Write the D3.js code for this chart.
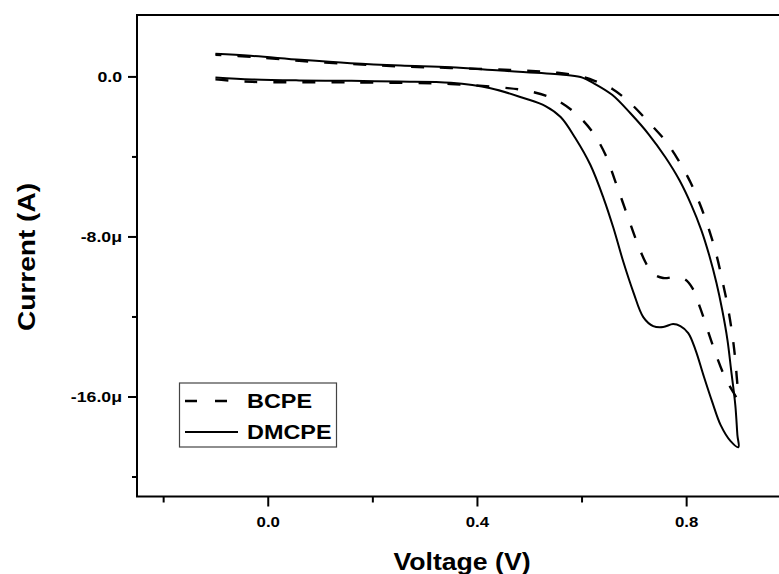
<!DOCTYPE html>
<html><head><meta charset="utf-8">
<script src="https://cdn.jsdelivr.net/npm/d3@7"></script>
<style>
html,body{margin:0;padding:0;background:#fff;}
text{font-family:"Liberation Sans",Arial,sans-serif;font-weight:bold;fill:#000;}
</style></head>
<body><svg id="c" width="779" height="574"></svg>
<script>
// ---- data (voltage in V, current in µA) ----
const seriesNames = ["BCPE", "DMCPE"];
const xMajorTicks = [0, 0.4, 0.8];
const xMinorTicks = [-0.2, 0.2, 0.6];
const yMajorTicks = [0, -8, -16];
const yMinorTicks = [-4, -12, -20];
const yTickLabels = ["0.0", "-8.0\u03bc", "-16.0\u03bc"];

const dmcpeFwdV = [-0.1, -0.03, 0.06, 0.16, 0.25, 0.35, 0.426, 0.489, 0.531, 0.560, 0.588, 0.617, 0.642, 0.661, 0.680, 0.699, 0.718, 0.737, 0.756, 0.775, 0.789, 0.804, 0.818, 0.833, 0.850, 0.866, 0.885, 0.900];
const dmcpeFwdI = [-0.05, -0.15, -0.2, -0.22, -0.26, -0.32, -0.59, -1.08, -1.48, -2.03, -3.08, -4.43, -6.08, -7.58, -9.28, -10.78, -12.03, -12.48, -12.53, -12.38, -12.48, -12.83, -13.68, -14.93, -16.28, -17.43, -18.23, -18.53];
const dmcpeRevV = [0.900, 0.898, 0.894, 0.886, 0.879, 0.869, 0.858, 0.844, 0.829, 0.810, 0.787, 0.760, 0.728, 0.693, 0.659, 0.626, 0.598, 0.560, 0.445, 0.349, 0.254, 0.158, 0.063, -0.033, -0.1];
const dmcpeRevI = [-18.53, -17.93, -16.43, -14.68, -13.18, -11.68, -10.33, -8.93, -7.68, -6.43, -5.18, -4.03, -2.88, -1.83, -0.93, -0.38, -0.03, 0.1, 0.29, 0.46, 0.54, 0.66, 0.83, 1.03, 1.13];

const bcpeFwdV = [-0.1, -0.03, 0.16, 0.35, 0.445, 0.502, 0.552, 0.592, 0.621, 0.646, 0.665, 0.684, 0.703, 0.722, 0.735, 0.756, 0.779, 0.797, 0.812, 0.827, 0.843, 0.858, 0.875, 0.890, 0.898];
const bcpeFwdI = [-0.15, -0.27, -0.3, -0.38, -0.55, -0.75, -1.18, -1.93, -2.78, -3.93, -5.28, -6.68, -8.08, -9.28, -9.83, -10.08, -10.03, -10.13, -10.58, -11.58, -12.83, -13.98, -15.08, -15.78, -16.08];
const bcpeRevV = [0.898, 0.896, 0.892, 0.887, 0.879, 0.869, 0.858, 0.844, 0.827, 0.808, 0.785, 0.759, 0.728, 0.693, 0.659, 0.626, 0.598, 0.554, 0.489, 0.35, 0.25, 0.16, 0.06, -0.03, -0.1];
const bcpeRevI = [-16.08, -14.78, -13.68, -12.68, -11.43, -10.18, -8.93, -7.68, -6.43, -5.28, -4.18, -3.18, -2.28, -1.33, -0.63, -0.23, 0.0, 0.18, 0.29, 0.42, 0.5, 0.62, 0.78, 0.98, 1.08];

// ---- layout ----
const svg = d3.select("#c");
const L = 137, T = 15, B = 496.5;
const x = d3.scaleLinear().domain([-0.25, 1.0]).range([L, L + 1.25 * 523]);
const y = d3.scaleLinear().domain([-21, 3.07]).range([B, T]);

function stretch(sel, k) {
  sel.each(function () {
    const w = this.getComputedTextLength();
    d3.select(this).attr("textLength", w * k).attr("lengthAdjust", "spacingAndGlyphs");
  });
}

// frame (right edge lies beyond the picture)
svg.append("rect").attr("x", L).attr("y", T).attr("width", 760).attr("height", B - T)
  .attr("fill", "none").attr("stroke", "#000").attr("stroke-width", 2);

// x axis
const gx = svg.append("g").attr("transform", `translate(0,${B})`)
  .call(d3.axisBottom(x).tickValues(xMajorTicks).tickSize(10).tickPadding(10).tickFormat(d3.format(".1f")));
gx.select(".domain").remove();
gx.selectAll("line").attr("stroke", "#000").attr("stroke-width", 2);
gx.selectAll("text").attr("font-size", 15).attr("font-family", null);
stretch(gx.selectAll("text"), 1.12);
const gxm = svg.append("g").attr("transform", `translate(0,${B})`)
  .call(d3.axisBottom(x).tickValues(xMinorTicks).tickSize(6).tickFormat(""));
gxm.select(".domain").remove();
gxm.selectAll("line").attr("stroke", "#000").attr("stroke-width", 2);

// y axis
const gy = svg.append("g").attr("transform", `translate(${L},0)`)
  .call(d3.axisLeft(y).tickValues(yMajorTicks).tickSize(9).tickPadding(6)
    .tickFormat((d, i) => yTickLabels[i]));
gy.select(".domain").remove();
gy.selectAll("line").attr("stroke", "#000").attr("stroke-width", 2);
gy.selectAll("text").attr("font-size", 15).attr("font-family", null);
stretch(gy.selectAll("text"), 1.18);
const gym = svg.append("g").attr("transform", `translate(${L},0)`)
  .call(d3.axisLeft(y).tickValues(yMinorTicks).tickSize(5).tickFormat(""));
gym.select(".domain").remove();
gym.selectAll("line").attr("stroke", "#000").attr("stroke-width", 2);

// axis titles
const xt = svg.append("text").attr("x", 462).attr("y", 570).attr("text-anchor", "middle")
  .attr("font-size", 24).text("Voltage (V)");
stretch(xt, 1.11);
const yt = svg.append("text").attr("transform", "translate(35,257) rotate(-90)")
  .attr("text-anchor", "middle").attr("font-size", 24).text("Current (A)");
stretch(yt, 1.17);

// curves
const line = d3.line().x(d => x(d[0])).y(d => y(d[1])).curve(d3.curveCatmullRom.alpha(0.5));
function loop(fv, fi, rv, ri) {
  const a = fv.map((v, i) => [v, fi[i]]);
  const b = rv.map((v, i) => [v, ri[i]]).slice(1);
  return a.concat(b);
}
const plot = svg.append("g");
plot.append("path").datum(loop(dmcpeFwdV, dmcpeFwdI, dmcpeRevV, dmcpeRevI))
  .attr("d", line).attr("fill", "none").attr("stroke", "#000").attr("stroke-width", 2)
  .attr("stroke-linejoin", "round");
plot.append("path").datum(loop(bcpeFwdV, bcpeFwdI, bcpeRevV, bcpeRevI))
  .attr("d", line).attr("fill", "none").attr("stroke", "#000").attr("stroke-width", 2.4)
  .attr("stroke-dasharray", "13,16");

// legend
const lg = svg.append("g");
lg.append("rect").attr("x", 179.5).attr("y", 383).attr("width", 157).attr("height", 64)
  .attr("fill", "#fff").attr("stroke", "#444").attr("stroke-width", 1.2);
const styles = [{dash: "12,18", w: 2.6}, {dash: null, w: 2.2}];
seriesNames.forEach((name, i) => {
  const yy = 401 + i * 31;
  lg.append("line").attr("x1", 185).attr("x2", 238).attr("y1", yy).attr("y2", yy)
    .attr("stroke", "#000").attr("stroke-width", styles[i].w)
    .attr("stroke-dasharray", styles[i].dash);
  const t = lg.append("text").attr("x", 247).attr("y", yy + 7).attr("font-size", 20).text(name);
  stretch(t, 1.17);
});
</script></body></html>
